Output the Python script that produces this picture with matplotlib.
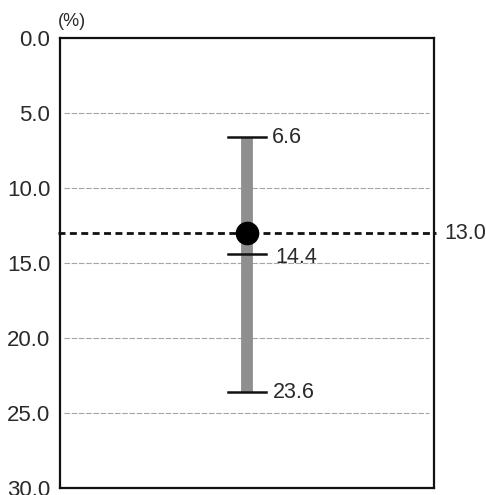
import matplotlib.pyplot as plt

plt.rcParams['font.family'] = ['Liberation Sans', 'DejaVu Sans']

# данные
y_ticks = [0.0, 5.0, 10.0, 15.0, 20.0, 25.0, 30.0]
range_low = 6.6
range_high = 23.6
mid_cap = 14.4
point_value = 13.0
ref_value = 13.0

txt_color = '#2a2a2a'

fig = plt.figure(figsize=(4.86, 4.95), dpi=100)
ax = fig.add_axes([0.1235, 0.0141, 0.770, 0.909])

ax.set_xlim(0, 1)
ax.set_ylim(30, 0)  # ось перевернута
ax.set_yticks(y_ticks)
ax.set_yticklabels([f"{v:.1f}" for v in y_ticks], fontsize=16, color=txt_color)
ax.tick_params(axis='y', length=0, pad=7)
ax.set_xticks([])
for s in ax.spines.values():
    s.set_linewidth(1.6)
    s.set_color('#111111')

# сетка
for v in y_ticks[1:-1]:
    ax.plot([0.01, 0.985], [v, v], color='#a5a5a5', lw=0.8,
            linestyle=(0, (5, 1.5)), zorder=1)

# полоса диапазона
x0 = 0.5
ax.plot([x0, x0], [range_low, range_high], color='#8f8f8f', lw=8.5,
        solid_capstyle='butt', zorder=2)
for v in [range_low, mid_cap, range_high]:
    ax.plot([x0 - 0.05, x0 + 0.05], [v, v], color='#111111', lw=1.8, zorder=3)
ax.text(x0 + 0.066, range_low, f"{range_low}", fontsize=15.5, va='center', ha='left', color=txt_color)
ax.text(x0 + 0.076, mid_cap + 0.2, f"{mid_cap}", fontsize=15.5, va='center', ha='left', color=txt_color)
ax.text(x0 + 0.068, range_high, f"{range_high}", fontsize=15.5, va='center', ha='left', color=txt_color)

# опорная линия
ax.plot([-0.005, 1.005], [ref_value, ref_value], color='#111111', lw=2,
        linestyle=(0, (2.5, 1.6)), clip_on=False, zorder=4)
ax.text(1.027, ref_value, f"{ref_value}", fontsize=15.5, va='center', ha='left',
        color=txt_color, transform=ax.get_yaxis_transform(), clip_on=False)

# точка
ax.plot([x0], [point_value], 'o', color='black', markersize=16, zorder=5)

fig.text(58 / 486, 1 - 22 / 495, "(%)", fontsize=13, va='center', ha='left', color=txt_color)

plt.savefig('out.png', dpi=100)
